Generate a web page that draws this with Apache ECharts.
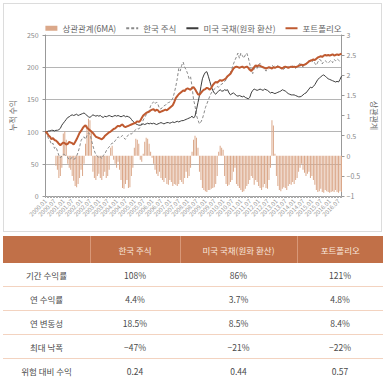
<!DOCTYPE html>
<html><head><meta charset="utf-8">
<script src="https://cdn.jsdelivr.net/npm/echarts@6/dist/echarts.min.js"></script>
<style>
body{margin:0;background:#fff;font-family:"Noto Sans CJK KR","Noto Sans",sans-serif;}
#wrap{position:relative;width:387px;height:381px;overflow:hidden;background:#fff;}
#box{position:absolute;left:3px;top:3px;width:377px;height:227px;border:1px solid #dcdcdc;}
#chart{position:absolute;left:0;top:0;width:387px;height:232px;}
table{position:absolute;left:3px;top:236px;width:380px;border-collapse:collapse;table-layout:fixed;font-size:8.5px;color:#4a4a4a;}
th{background:#c17048;color:#f8e6dc;font-weight:normal;height:25px;border-left:1px solid #d89878;}
th:first-child{border-left:none;}
td{height:21px;text-align:center;border-bottom:1px solid #f3d3c0;}
tr:last-child td{border-bottom:2px solid #e9b79a;}
</style></head><body>
<div id="wrap"><div id="box"></div><div id="chart"></div>
<table>
<colgroup><col style="width:87px"><col style="width:90px"><col style="width:117px"><col style="width:86px"></colgroup>
<thead><tr><th></th><th>한국 주식</th><th>미국 국채(원화 환산)</th><th>포트폴리오</th></tr></thead>
<tbody id="tb"></tbody>
</table></div>
<script>
// ---------- data ----------
const seriesNames = ['상관관계(6MA)', '한국 주식', '미국 국채(원화 환산)', '포트폴리오'];
const startYear = 2000, endYear = 2016, endMonth = 9;
const categories = [];
for (let y = startYear; y <= endYear; y++) {
  for (let m = 1; m <= 12; m++) {
    if (y === endYear && m > endMonth) break;
    categories.push(y + '.' + (m < 10 ? '0' + m : m));
  }
}
const korea = [
100,96,89,86,80,82,74,76,70,63,59,62,
65,64,62,60,56,58,60,57,58,62,68,76,
86,90,92,88,94,98,96,87,78,70,64,62,
59,61,58,63,65,70,74,76,80,82,82,86,
88,92,90,92,94,90,88,92,95,97,96,99,
101,103,105,104,107,112,118,122,126,129,133,140,
144,146,143,146,142,136,135,138,140,141,144,145,
146,148,152,160,170,182,198,194,203,208,200,196,
190,182,185,170,150,140,125,118,112,115,120,128,
137,143,149,155,160,163,166,168,170,169,171,174,
175,178,180,186,188,192,198,205,211,216,222,214,
222,218,214,219,222,215,205,196,190,198,200,198,
204,206,202,198,196,194,196,198,200,203,201,202,
200,203,200,198,196,197,199,200,201,199,200,202,
200,198,201,204,206,203,200,202,205,208,210,211,
208,211,206,203,208,212,211,205,209,210,208,206,
209,211,207,212,210,213,211,209,208];
const usBond = [
100,100,101,101,102,102,101,102,102,103,105,110,
113,116,119,122,123,125,126,125,126,127,125,126,
127,128,129,127,125,123,122,124,126,125,124,125,
124,125,123,122,124,123,124,125,124,123,124,125,
124,125,124,123,124,125,123,124,123,122,119,116,
114,112,111,110,110,111,112,111,112,113,112,113,
112,113,112,111,112,113,114,113,112,113,114,114,
113,114,115,114,115,116,115,116,117,117,118,119,
120,121,122,124,121,124,134,145,156,170,182,188,
192,193,186,178,170,164,160,158,161,163,165,163,
163,165,164,165,160,157,159,160,158,156,155,156,
155,154,155,153,152,151,153,160,164,166,165,164,
165,166,165,164,166,165,164,162,160,161,160,159,
160,161,162,163,165,164,163,161,159,158,157,157,
157,156,155,154,154,155,157,159,160,163,166,169,
168,170,173,177,181,183,185,187,188,186,184,182,
181,180,179,178,177,178,177,181,186];
const portfolio = [
100,98,94,92,88,90,87,86,84,81,79,81,
83,82,80,81,84,83,82,80,84,88,93,98,
101,105,108,110,106,104,102,100,98,95,92,91,
90,89,88,90,93,95,97,99,100,102,104,105,
107,109,108,110,111,108,107,108,109,110,111,112,
113,114,116,115,117,121,125,127,129,130,131,133,
134,135,132,134,133,130,131,132,133,134,133,135,
137,139,141,146,152,155,158,160,162,164,163,166,
167,166,165,168,169,166,162,158,157,160,163,165,
166,168,167,165,168,172,175,177,176,178,180,179,
180,181,183,186,188,190,194,198,200,201,200,199,
200,201,199,200,201,199,196,194,197,200,203,201,
203,202,201,200,199,198,199,200,199,198,200,199,
200,201,200,199,198,200,201,200,199,200,201,200,
201,200,201,202,203,204,203,204,205,207,209,210,
211,212,211,213,215,216,217,216,218,219,218,219,
218,219,220,218,219,220,219,220,221];
const correlation = [
null,null,null,null,null,null,null,-0.25,-0.35,-0.55,-0.5,-0.3,
0.55,0.6,0.4,-0.2,-0.3,-0.35,-0.5,-0.62,-0.75,-0.78,-0.7,-0.55,
-0.35,-0.5,-0.2,0.3,0.75,0.92,0.88,0.6,-0.4,-0.55,-0.6,-0.5,
-0.45,-0.55,-0.6,-0.5,-0.4,-0.55,-0.5,-0.35,0.2,0.25,-0.1,-0.2,
-0.3,-0.15,-0.35,-0.6,-0.8,-0.82,-0.7,-0.6,-0.8,-0.78,-0.5,-0.3,
0.2,0.42,0.4,0.3,-0.1,-0.15,0.05,0.35,0.45,0.42,0.3,0.1,
-0.05,-0.2,-0.35,-0.45,-0.5,-0.4,-0.55,-0.6,-0.65,-0.55,-0.7,-0.72,
-0.6,-0.65,-0.75,-0.7,-0.72,-0.75,-0.7,-0.6,-0.65,-0.7,-0.55,-0.4,
-0.55,-0.5,-0.3,0.1,0.4,0.5,0.45,0.2,-0.4,-0.6,-0.8,-0.85,
-0.88,-0.9,-0.85,-0.85,-0.82,-0.8,-0.78,-0.7,-0.5,0.1,0.25,0.2,
0.15,-0.5,-0.7,-0.75,-0.72,-0.65,-0.6,-0.4,-0.3,-0.7,-0.75,-0.8,
-0.85,-0.9,-0.88,-0.82,-0.75,-0.7,-0.6,-0.5,-0.55,-0.72,-0.6,-0.65,
-0.75,-0.8,-0.85,-0.78,-0.7,-0.8,-0.82,-0.6,-0.3,0.88,0.75,0.05,
-0.5,-0.75,-0.85,-0.88,-0.82,-0.78,-0.8,-0.85,-0.75,-0.7,-0.72,-0.65,
-0.7,-0.6,-0.55,-0.4,-0.3,-0.2,-0.35,-0.42,-0.5,-0.45,-0.4,-0.55,
-0.5,-0.6,-0.72,-0.85,-0.9,-0.88,-0.82,-0.9,-0.92,-0.85,-0.88,-0.9,
-0.92,-0.9,-0.88,-0.9,-0.85,-0.9,-0.92,-0.88,-0.9];
const tableRows = ['기간 수익률', '연 수익률', '연 변동성', '최대 낙폭', '위험 대비 수익'];
const tableKorea = ['108%', '4.4%', '18.5%', '−47%', '0.24'];
const tableUS = ['86%', '3.7%', '8.5%', '−21%', '0.44'];
const tablePort = ['121%', '4.8%', '8.4%', '−22%', '0.57'];

// ---------- table ----------
const tb = document.getElementById('tb');
tableRows.forEach((r, i) => {
  const tr = document.createElement('tr');
  [r, tableKorea[i], tableUS[i], tablePort[i]].forEach(t => {
    const td = document.createElement('td'); td.textContent = t; tr.appendChild(td);
  });
  tb.appendChild(tr);
});

// ---------- chart ----------
const chart = echarts.init(document.getElementById('chart'), null, {renderer: 'svg'});
const font = '"Noto Sans CJK KR","Noto Sans",sans-serif';
const hideSym = {opacity: 0};
chart.setOption({
  animation: false,
  textStyle: {fontFamily: font},
  legend: {
    top: 19, left: 'center', itemGap: 9, itemWidth: 12, itemHeight: 5,
    textStyle: {fontSize: 8.5, color: '#666', fontFamily: font},
    data: [
      {name: seriesNames[0], icon: 'rect', itemStyle: {color: '#dba88a'}},
      {name: seriesNames[1], itemStyle: hideSym},
      {name: seriesNames[2], itemStyle: hideSym},
      {name: seriesNames[3], itemStyle: hideSym}
    ]
  },
  grid: {left: 43, right: 41, top: 35, bottom: 36},
  xAxis: {
    type: 'category', data: categories, boundaryGap: false,
    axisLine: {lineStyle: {color: '#999'}},
    axisTick: {interval: 0, length: 2, lineStyle: {color: '#aaa'}},
    axisLabel: {
      interval: (i) => i % 6 === 0, rotate: 45, fontSize: 6, color: '#999', margin: 4, fontFamily: font
    }
  },
  yAxis: [
    {
      type: 'value', min: 0, max: 250, interval: 50,
      name: '누적 수익', nameLocation: 'middle', nameGap: 22, nameRotate: 90,
      nameTextStyle: {fontSize: 8, color: '#666', fontFamily: font},
      axisLine: {show: true, lineStyle: {color: '#999'}},
      axisTick: {show: true, length: 3, lineStyle: {color: '#999'}},
      axisLabel: {fontSize: 7, color: '#888', margin: 7, fontFamily: font},
      splitLine: {lineStyle: {color: '#b5b5b5'}}
    },
    {
      type: 'value', min: -1, max: 3, interval: 0.5,
      name: '상관관계', nameLocation: 'middle', nameGap: 22, nameRotate: -90,
      nameTextStyle: {fontSize: 8, color: '#666', fontFamily: font},
      axisLine: {show: true, lineStyle: {color: '#999'}},
      axisTick: {show: true, length: 3, lineStyle: {color: '#999'}},
      axisLabel: {fontSize: 7, color: '#888', margin: 5, fontFamily: font,
        formatter: (v) => String(v).replace('-', '−')},
      splitLine: {show: false}
    }
  ],
  series: [
    {name: seriesNames[0], type: 'bar', yAxisIndex: 1, data: correlation,
     barWidth: 1, itemStyle: {color: '#dba88a'}},
    {name: seriesNames[1], type: 'line', data: korea, symbol: 'none',
     lineStyle: {color: '#8a8a8a', width: 1, type: [3, 2]}, itemStyle: {color: '#8a8a8a'}},
    {name: seriesNames[2], type: 'line', data: usBond, symbol: 'none',
     lineStyle: {color: '#3c3c3c', width: 1}, itemStyle: {color: '#3c3c3c'}},
    {name: seriesNames[3], type: 'line', data: portfolio, symbol: 'none',
     lineStyle: {color: '#bf5a30', width: 2}, itemStyle: {color: '#bf5a30'}}
  ]
});
</script>
</body></html>
